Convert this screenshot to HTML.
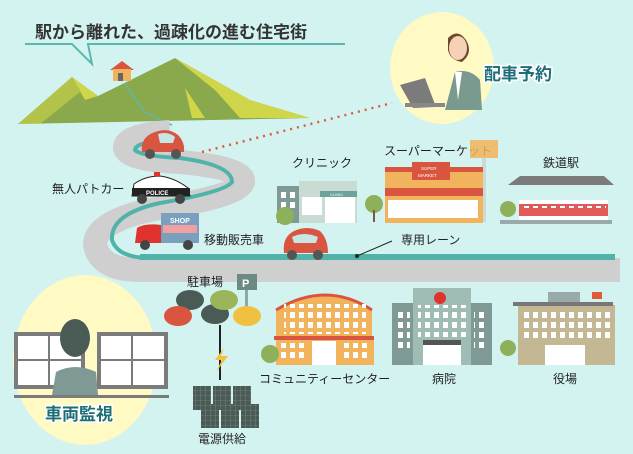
<!DOCTYPE html>
<html><head><meta charset="utf-8"><style>
html,body{margin:0;padding:0;background:#d3f3f1;}
svg{display:block}
text{font-family:"Liberation Sans","Noto Sans CJK JP",sans-serif;}
</style></head><body>
<svg width="633" height="454" viewBox="0 0 633 454" xmlns="http://www.w3.org/2000/svg">
<defs>
<pattern id="win" width="9" height="10" patternUnits="userSpaceOnUse"><rect x="2" y="2" width="5" height="6" fill="#fff"/></pattern>
<pattern id="cell" width="5" height="5" patternUnits="userSpaceOnUse"><rect width="5" height="5" fill="#4a5a55"/><path d="M0 0H5M0 0V5" stroke="#8a9a95" stroke-width="0.6"/></pattern>
</defs>
<rect width="633" height="454" fill="#d3f3f1"/>
<!-- title -->
<text x="35" y="38" font-size="17" font-weight="bold" fill="#333">駅から離れた、過疎化の進む住宅街</text>
<polyline points="25,44 72,44 92,64 88,44 345,44" fill="none" stroke="#5bb8b0" stroke-width="2"/>
<!-- mountains -->
<polygon points="18,124 72,77 98,96 175,58 250,100 310,118" fill="#8aa94c"/>
<polygon points="72,77 98,96 85,100" fill="#cfd64a"/>
<polygon points="175,58 250,100 310,118 240,118 215,90" fill="#cfd64a"/>
<polygon points="185,88 205,118 192,118" fill="#cfd64a"/>
<polygon points="18,124 72,77 80,92 40,124" fill="#cfd64a" opacity="0.6"/>
<!-- house -->
<polygon points="110,70 122,61 134,70" fill="#d9553f"/>
<rect x="113" y="69" width="18" height="12" fill="#f1b45c"/>
<rect x="118" y="73" width="5" height="8" fill="#666"/>
<path d="M125 83 Q135 100 145 112 Q160 120 172 125" fill="none" stroke="#5bb8b0" stroke-width="1.5"/>
<!-- road -->
<path d="M170 132 Q125 135 125 148 Q128 160 180 162 Q245 168 243 182 Q238 196 160 208 Q95 220 95 245 Q100 270 140 270 L620 270" fill="none" stroke="#cfcfcf" stroke-width="24"/>
<path d="M170 140 Q135 142 135 150 Q140 156 180 158 Q232 165 232 182 Q225 192 160 203 Q110 214 112 240 Q118 258 150 258 L615 258" fill="none" stroke="#4fb3a9" stroke-width="4"/>
<rect x="140" y="258" width="475" height="24" fill="#cfcfcf"/>
<rect x="140" y="254" width="475" height="6" fill="#4fb3a9"/>
<!-- dotted -->
<line x1="202" y1="152" x2="392" y2="103" stroke="#e05a3c" stroke-width="2.5" stroke-dasharray="2,5"/>
<!-- operator circle -->
<ellipse cx="442" cy="68" rx="52" ry="56" fill="#fff9c4"/>
<path d="M448 38 Q458 28 466 40 Q472 50 466 58 L462 62 Q450 60 448 50 Z" fill="#6b4a2b"/>
<ellipse cx="458" cy="48" rx="9" ry="12" fill="#f5d1b6"/>
<path d="M445 110 L455 72 Q470 68 480 80 L482 110 Z" fill="#7a9a8f"/>
<path d="M455 72 L462 72 L458 100 Z" fill="#fff"/>
<polygon points="332,85 357,78 368,107 345,108" fill="#7b7b7b" transform="translate(68,0)"/>
<rect x="405" y="103" width="40" height="4" fill="#888"/>
<text x="484" y="80" font-size="17" font-weight="bold" fill="#1e6e78" stroke="#fff" stroke-width="3" paint-order="stroke">配車予約</text>
<!-- red car top -->
<g transform="translate(140,127)">
<path d="M2 25 Q0 10 15 5 Q28 0 38 8 Q45 15 44 25 Z" fill="#d9553f"/>
<path d="M18 7 Q28 4 35 10 L33 16 L20 16 Z" fill="#c6e6e6"/>
<circle cx="10" cy="27" r="5" fill="#555"/><circle cx="36" cy="27" r="5" fill="#555"/>
</g>
<!-- police -->
<text x="52" y="193" font-size="12" fill="#222">無人パトカー</text>
<g transform="translate(130,172)">
<path d="M2 24 L4 12 Q15 4 30 4 Q45 6 58 16 L60 24 Z" fill="#fff" stroke="#222" stroke-width="1"/>
<rect x="2" y="16" width="58" height="8" fill="#222"/>
<text x="16" y="23" font-size="6" fill="#fff" font-weight="bold">POLICE</text>
<rect x="24" y="0" width="6" height="4" fill="#e0322e"/>
<circle cx="12" cy="27" r="5" fill="#444"/><circle cx="50" cy="27" r="5" fill="#444"/>
</g>
<!-- shop truck -->
<g transform="translate(133,213)">
<rect x="28" y="0" width="38" height="30" fill="#7a9fbf"/>
<text x="37" y="10" font-size="7" fill="#fff" font-weight="bold">SHOP</text>
<rect x="30" y="12" width="34" height="8" fill="#f0a0a0"/>
<path d="M2 30 L4 15 Q12 10 28 12 L28 30 Z" fill="#e0322e"/>
<circle cx="12" cy="32" r="5" fill="#444"/><circle cx="55" cy="32" r="5" fill="#444"/>
</g>
<text x="204" y="244" font-size="12" fill="#222">移動販売車</text>
<!-- red car lane -->
<g transform="translate(282,225)">
<path d="M2 28 Q0 12 12 6 Q25 0 38 6 Q46 14 46 28 Z" fill="#d9553f"/>
<path d="M10 12 Q22 6 36 12 L34 18 L12 18 Z" fill="#c6e6e6"/>
<circle cx="10" cy="30" r="5" fill="#555"/><circle cx="36" cy="30" r="5" fill="#555"/>
</g>
<line x1="357" y1="256" x2="392" y2="241" stroke="#222" stroke-width="1"/>
<circle cx="357" cy="256" r="2" fill="#222"/>
<text x="401" y="244" font-size="12" fill="#222">専用レーン</text>
<!-- clinic -->
<text x="292" y="167" font-size="12" fill="#222">クリニック</text>
<rect x="277" y="186" width="22" height="37" fill="#7f9a94"/>
<rect x="281" y="192" width="14" height="16" fill="url(#win)"/>
<rect x="299" y="181" width="58" height="42" fill="#c8dcd4"/>
<rect x="320" y="191" width="37" height="6" fill="#6ca39b"/>
<text x="330" y="196" font-size="4" fill="#fff">CLINIC</text>
<rect x="325" y="197" width="30" height="26" fill="#fff"/>
<rect x="302" y="197" width="20" height="18" fill="#fff"/>
<circle cx="285" cy="216" r="9" fill="#8fb05a"/>
<!-- supermarket -->
<text x="384" y="155" font-size="12" fill="#222">スーパーマーケット</text>
<rect x="470" y="140" width="28" height="18" fill="#f1b45c" opacity="0.85"/>
<rect x="482" y="158" width="4" height="64" fill="#c8dcd4"/>
<rect x="385" y="167" width="98" height="56" fill="#f1b45c"/>
<rect x="385" y="167" width="98" height="5" fill="#d9553f"/>
<rect x="385" y="188" width="98" height="8" fill="#d9553f"/>
<rect x="412" y="162" width="38" height="18" fill="#d9553f"/>
<text x="421" y="170" font-size="4.5" fill="#fff">SUPER</text>
<text x="418" y="177" font-size="4.5" fill="#fff">MARKET</text>
<rect x="388" y="200" width="90" height="18" fill="#fff"/>
<circle cx="374" cy="204" r="9" fill="#8fb05a"/><rect x="373" y="210" width="2" height="12" fill="#7a5a3a"/>
<!-- station -->
<text x="543" y="167" font-size="12" fill="#222">鉄道駅</text>
<polygon points="508,185 520,176 604,176 614,185" fill="#7b7b7b"/>
<rect x="519" y="200" width="89" height="20" fill="#fff"/>
<rect x="519" y="204" width="89" height="12" fill="#e05a5a"/>
<rect x="522" y="206" width="84" height="5" fill="url(#win)"/>
<rect x="500" y="220" width="112" height="4" fill="#9aa"/>
<circle cx="508" cy="209" r="8" fill="#8fb05a"/>
<!-- parking -->
<text x="187" y="286" font-size="12" fill="#222">駐車場</text>
<rect x="237" y="274" width="20" height="16" fill="#6b8a84"/>
<text x="242" y="287" font-size="11" fill="#fff" font-weight="bold">P</text>
<rect x="245" y="290" width="3" height="25" fill="#8aa"/>
<g fill="#4a5a55"><ellipse cx="190" cy="300" rx="14" ry="10"/><ellipse cx="215" cy="314" rx="14" ry="10"/></g>
<ellipse cx="224" cy="300" rx="14" ry="10" fill="#9bb55a"/>
<ellipse cx="178" cy="316" rx="14" ry="10" fill="#d9553f"/>
<ellipse cx="247" cy="316" rx="14" ry="10" fill="#f0c040"/>
<line x1="220" y1="325" x2="220" y2="380" stroke="#222" stroke-width="2"/>
<polygon points="224,348 215,360 222,360 216,372 228,356 221,356" fill="#f0c040"/>
<!-- solar -->
<g fill="url(#cell)">
<rect x="193" y="386" width="18" height="24"/><rect x="213" y="386" width="18" height="24"/><rect x="233" y="386" width="18" height="24"/>
<rect x="201" y="404" width="18" height="24"/><rect x="221" y="404" width="18" height="24"/><rect x="241" y="404" width="18" height="24"/>
</g>
<text x="198" y="443" font-size="12" fill="#222">電源供給</text>
<!-- community center -->
<path d="M276 345 L276 310 Q326 280 372 310 L372 345 Z" fill="#f1b45c"/>
<path d="M276 310 Q326 280 372 310" fill="none" stroke="#d9553f" stroke-width="3"/>
<rect x="284" y="304" width="82" height="30" fill="url(#win)"/>
<rect x="274" y="336" width="100" height="4" fill="#d9553f"/>
<rect x="276" y="340" width="98" height="25" fill="#f1b45c"/>
<rect x="280" y="343" width="26" height="18" fill="url(#win)"/>
<rect x="342" y="343" width="26" height="18" fill="url(#win)"/>
<rect x="312" y="341" width="24" height="24" fill="#fff"/>
<circle cx="270" cy="354" r="9" fill="#8fb05a"/>
<text x="259" y="383" font-size="12" fill="#222">コミュニティーセンター</text>
<!-- hospital -->
<rect x="392" y="303" width="100" height="62" fill="#7f9a94"/>
<rect x="396" y="310" width="14" height="40" fill="url(#win)"/>
<rect x="474" y="310" width="14" height="40" fill="url(#win)"/>
<rect x="413" y="288" width="58" height="77" fill="#9fbdb5"/>
<rect x="418" y="305" width="48" height="32" fill="url(#win)"/>
<circle cx="440" cy="298" r="6" fill="#e0322e"/>
<rect x="423" y="340" width="38" height="25" fill="#fff"/>
<rect x="423" y="340" width="38" height="5" fill="#555"/>
<text x="432" y="383" font-size="12" fill="#222">病院</text>
<!-- city hall -->
<circle cx="508" cy="348" r="8" fill="#8fb05a"/>
<rect x="518" y="305" width="97" height="60" fill="#c4b794"/>
<rect x="522" y="310" width="90" height="30" fill="url(#win)"/>
<rect x="513" y="302" width="100" height="4" fill="#777"/>
<rect x="548" y="292" width="32" height="10" fill="#9aa"/>
<rect x="592" y="292" width="10" height="7" fill="#e05a3c"/>
<rect x="545" y="345" width="40" height="20" fill="#fff"/>
<text x="553" y="383" font-size="12" fill="#222">役場</text>
<!-- monitor circle -->
<ellipse cx="85" cy="360" rx="72" ry="85" fill="#fff9c4"/>
<rect x="14" y="332" width="71" height="57" fill="#7b7b7b"/>
<rect x="97" y="332" width="71" height="57" fill="#7b7b7b"/>
<rect x="18" y="336" width="63" height="49" fill="#fff"/>
<rect x="101" y="336" width="63" height="49" fill="#fff"/>
<path d="M49 336V385M18 360H81M132 336V385M101 360H164" stroke="#7b7b7b" stroke-width="2"/>
<rect x="14" y="395" width="155" height="3" fill="#7b7b7b"/>
<path d="M52 395 L56 372 Q75 362 96 372 L98 395 Z" fill="#7f9a94"/>
<ellipse cx="75" cy="338" rx="15" ry="19" fill="#4a5a55"/>
<text x="45" y="420" font-size="17" font-weight="bold" fill="#1e6e78" stroke="#fff" stroke-width="3" paint-order="stroke">車両監視</text>
</svg>
</body></html>
